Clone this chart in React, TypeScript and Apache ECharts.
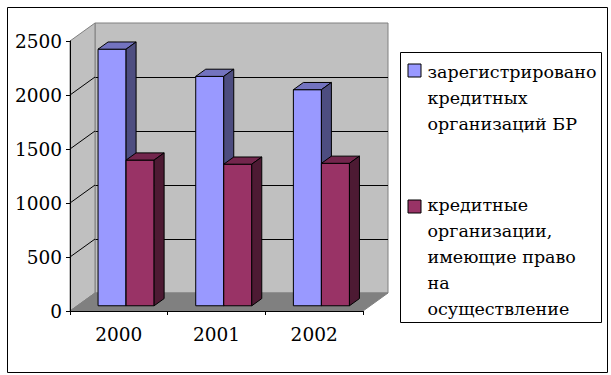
import React, { useEffect, useRef } from 'react';
import * as echarts from 'echarts';

// ---- data ----
const categories = ['2000', '2001', '2002'];
const registered = [2376, 2124, 2001];
const licensed = [1349, 1311, 1319];
const yMin = 0;
const yMax = 2500;
const yStep = 500;
const wallValues = [0, 500, 1000, 1500, 2000, 2500];
const seriesNames = [
  'зарегистрировано кредитных организаций БР',
  'кредитные организации, имеющие право на осуществление',
];
const legendLines1 = ['зарегистрировано', 'кредитных', 'организаций БР'];
const legendLines2 = ['кредитные', 'организации,', 'имеющие право', 'на', 'осуществление'];

// ---- styles ----
const FONT = "'DejaVu Serif', serif";
const FS = 18.5;
const LFS = 17.5;
const DX = 25;
const DY = -18;
const BAR_FRONT = 0.29;
const BAR_BACK = 0.69;
const BAR_W = 0.287;
const PAL = [
  { front: '#9999FF', top: '#7373BF', side: '#4D4D80' },
  { front: '#993366', top: '#73264D', side: '#4D1A33' },
];

function barRender(which: number) {
  const pal = PAL[which];
  return (params: any, api: any) => {
    const cat = api.value(0);
    const v = api.value(1);
    const base = api.coord([cat, 0]);
    const topP = api.coord([cat, v]);
    const band = api.size([1, 0])[0];
    const w = band * BAR_W;
    const fx = DX * BAR_FRONT;
    const fy = DY * BAR_FRONT;
    const dx = DX * (BAR_BACK - BAR_FRONT);
    const dy = DY * (BAR_BACK - BAR_FRONT);
    const x0 = base[0] + fx + (which === 0 ? -w : 0);
    const x1 = x0 + w;
    const yb = base[1] + fy;
    const yt = topP[1] + fy;
    const st = (fill: string) => ({ fill, stroke: '#000', lineWidth: 1, lineJoin: 'miter' });
    return {
      type: 'group',
      children: [
        { type: 'polygon', shape: { points: [[x0, yt], [x1, yt], [x1, yb], [x0, yb]] }, style: st(pal.front) },
        { type: 'polygon', shape: { points: [[x0, yt], [x0 + dx, yt + dy], [x1 + dx, yt + dy], [x1, yt]] }, style: st(pal.top) },
        { type: 'polygon', shape: { points: [[x1, yt], [x1 + dx, yt + dy], [x1 + dx, yb + dy], [x1, yb]] }, style: st(pal.side) },
      ],
    };
  };
}

function frameRender(params: any, api: any) {
  const v = api.value(1);
  const cs = params.coordSys;
  const xL = cs.x;
  const xR = cs.x + cs.width;
  const y = api.coord([0, v])[1];
  const children: any[] = [];
  if (v === yMin) {
    const yTop = api.coord([0, yMax])[1];
    children.push({
      type: 'polygon',
      shape: { points: [[xL, yTop], [xL + DX, yTop + DY], [xL + DX, y + DY], [xL, y]] },
      style: { fill: '#C0C0C0', stroke: '#808080', lineWidth: 1 },
    });
    children.push({
      type: 'polygon',
      shape: { points: [[xL, y], [xL + DX, y + DY], [xR + DX, y + DY], [xR, y]] },
      style: { fill: '#808080', stroke: '#808080', lineWidth: 1 },
    });
  } else if (v < yMax) {
    children.push({
      type: 'line',
      shape: { x1: xL, y1: y, x2: xL + DX, y2: y + DY },
      style: { stroke: '#000', lineWidth: 1 },
    });
  }
  return { type: 'group', children };
}

export default function App() {
  const ref = useRef<HTMLDivElement>(null);
  useEffect(() => {
    if (!ref.current) return;
    const chart = echarts.init(ref.current, null, { renderer: 'svg' });
    const legendText = { fontFamily: FONT, fontSize: LFS, fill: '#000', lineHeight: 26, verticalAlign: 'top' };
    chart.setOption({
      animation: false,
      backgroundColor: '#fff',
      textStyle: { fontFamily: FONT },
      grid: [
        { left: 70, top: 41, width: 293, height: 270, show: false },
        {
          left: 95, top: 23, width: 293, height: 270, show: true,
          backgroundColor: '#C0C0C0', borderColor: '#808080', borderWidth: 1,
        },
      ],
      xAxis: [
        {
          type: 'category', gridIndex: 0, data: categories, z: 10,
          axisLine: { lineStyle: { color: '#000', width: 1 } },
          axisTick: { show: true, length: 4, lineStyle: { color: '#000' } },
          axisLabel: { color: '#000', fontFamily: FONT, fontSize: FS, margin: 14 },
        },
        { type: 'category', gridIndex: 1, data: categories, show: false },
      ],
      yAxis: [
        {
          type: 'value', gridIndex: 0, min: yMin, max: yMax, interval: yStep, z: 10,
          axisLine: { show: true, lineStyle: { color: '#000', width: 1 } },
          axisTick: { show: true, length: 4, lineStyle: { color: '#000' } },
          axisLabel: {
            color: '#000', fontFamily: FONT, fontSize: FS, margin: 8,
            formatter: (v: number) => String(v),
          },
          splitLine: { show: false },
        },
        {
          type: 'value', gridIndex: 1, min: yMin, max: yMax, interval: yStep,
          axisLine: { show: false }, axisTick: { show: false }, axisLabel: { show: false },
          splitLine: { show: true, showMinLine: false, showMaxLine: false, lineStyle: { color: '#000', width: 1 } },
        },
      ],
      series: [
        {
          type: 'custom', name: 'frame', xAxisIndex: 0, yAxisIndex: 0, z: 2, silent: true,
          renderItem: frameRender,
          data: wallValues.map((v) => [0, v]),
          encode: { x: 0, y: 1 },
        },
        {
          type: 'custom', name: seriesNames[0], xAxisIndex: 0, yAxisIndex: 0, z: 3,
          renderItem: barRender(0),
          data: registered.map((v, i) => [i, v]),
          encode: { x: 0, y: 1 },
        },
        {
          type: 'custom', name: seriesNames[1], xAxisIndex: 0, yAxisIndex: 0, z: 4,
          renderItem: barRender(1),
          data: licensed.map((v, i) => [i, v]),
          encode: { x: 0, y: 1 },
        },
      ],
      graphic: [
        {
          type: 'rect', left: 5, top: 5, z: -1, silent: true,
          shape: { width: 600, height: 365 },
          style: { fill: 'none', stroke: '#000', lineWidth: 1 },
        },
        {
          type: 'group', left: 400, top: 52, z: 20,
          children: [
            { type: 'rect', x: 0, y: 0, shape: { width: 201, height: 270 }, style: { fill: '#fff', stroke: '#000', lineWidth: 1 } },
            { type: 'rect', x: 7.5, y: 11.5, shape: { width: 13, height: 13 }, style: { fill: PAL[0].front, stroke: '#000', lineWidth: 1 } },
            { type: 'text', x: 27, y: 6, style: { ...legendText, text: legendLines1.join('\n') } },
            { type: 'rect', x: 7.5, y: 147.5, shape: { width: 13, height: 13 }, style: { fill: PAL[1].front, stroke: '#000', lineWidth: 1 } },
            { type: 'text', x: 27, y: 139, style: { ...legendText, text: legendLines2.join('\n') } },
          ],
        },
      ],
    });
    return () => chart.dispose();
  }, []);
  return (
    <div
      ref={ref}
      style={{ position: 'absolute', left: 0, top: 0, width: 611, height: 375 }}
    />
  );
}
